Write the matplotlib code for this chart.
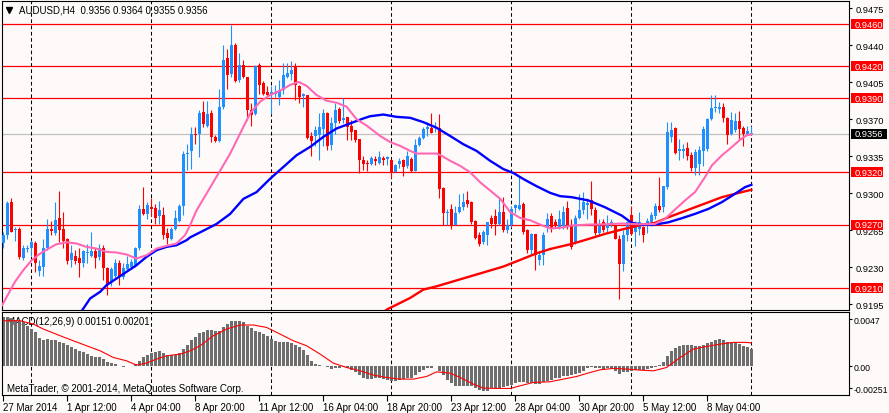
import numpy as np
import matplotlib
matplotlib.use('Agg')
import matplotlib.pyplot as plt
import matplotlib.transforms as mtransforms
from matplotlib.patches import Rectangle

plt.rcParams['font.family'] = ['Liberation Sans', 'DejaVu Sans']

# AUDUSD H4 candles, 27 Mar 2014 20:00 .. 12 May 2014 00:00
opens = [0.9253, 0.9260, 0.9292, 0.9265, 0.9266, 0.9239, 0.9247, 0.9248, 0.9253, 0.9226,
         0.9230, 0.9248, 0.9266, 0.9262, 0.9277, 0.9266, 0.9257, 0.9237, 0.9241, 0.9239,
         0.9234, 0.9243, 0.9241, 0.9245, 0.9240, 0.9248, 0.9229, 0.9216, 0.9222, 0.9234,
         0.9221, 0.9228, 0.9230, 0.9232, 0.9248, 0.9285, 0.9280, 0.9287, 0.9286, 0.9278,
         0.9279, 0.9262, 0.9257, 0.9266, 0.9274, 0.9288, 0.9337, 0.9340, 0.9356, 0.9356,
         0.9377, 0.9364, 0.9376, 0.9353, 0.9349, 0.9382, 0.9428, 0.9413, 0.9440, 0.9407,
         0.9421, 0.9410, 0.9379, 0.9375, 0.9421, 0.9404, 0.9396, 0.9393, 0.9394, 0.9391,
         0.9398, 0.9410, 0.9413, 0.9420, 0.9401, 0.9392, 0.9393, 0.9354, 0.9354, 0.9355,
         0.9361, 0.9376, 0.9346, 0.9366, 0.9380, 0.9369, 0.9372, 0.9364, 0.9360, 0.9351,
         0.9331, 0.9329, 0.9328, 0.9332, 0.9329, 0.9333, 0.9332, 0.9331, 0.9320, 0.9328,
         0.9331, 0.9326, 0.9332, 0.9321, 0.9346, 0.9352, 0.9361, 0.9362, 0.9362, 0.9362,
         0.9305, 0.9281, 0.9285, 0.9270, 0.9282, 0.9287, 0.9294, 0.9292, 0.9274, 0.9260,
         0.9254, 0.9260, 0.9277, 0.9278, 0.9271, 0.9282, 0.9265, 0.9270, 0.9286, 0.9285,
         0.9290, 0.9265, 0.9246, 0.9261, 0.9237, 0.9242, 0.9267, 0.9278, 0.9273, 0.9268,
         0.9269, 0.9286, 0.9269, 0.9254, 0.9277, 0.9284, 0.9289, 0.9294, 0.9284, 0.9262,
         0.9273, 0.9267, 0.9271, 0.9269, 0.9257, 0.9233, 0.9260, 0.9279, 0.9263, 0.9266,
         0.9268, 0.9269, 0.9273, 0.9278, 0.9288, 0.9287, 0.9306, 0.9353, 0.9362, 0.9340,
         0.9340, 0.9343, 0.9336, 0.9324, 0.9328, 0.9340, 0.9342, 0.9370, 0.9381, 0.9380,
         0.9382, 0.9371, 0.9356, 0.9360, 0.9368, 0.9362, 0.9356, 0.9356]
highs = [0.9263, 0.9293, 0.9295, 0.9268, 0.9268, 0.9251, 0.9251, 0.9256, 0.9255, 0.9237,
         0.9257, 0.9276, 0.9274, 0.9292, 0.9302, 0.9282, 0.9258, 0.9251, 0.9246, 0.9248,
         0.9246, 0.9252, 0.9263, 0.9248, 0.9252, 0.9251, 0.9230, 0.9230, 0.9238, 0.9237,
         0.9234, 0.9241, 0.9238, 0.9249, 0.9289, 0.9306, 0.9292, 0.9295, 0.9290, 0.9293,
         0.9287, 0.9267, 0.9268, 0.9284, 0.9290, 0.9340, 0.9347, 0.9363, 0.9363, 0.9379,
         0.9387, 0.9387, 0.9379, 0.9355, 0.9399, 0.9440, 0.9436, 0.9459, 0.9442, 0.9433,
         0.9426, 0.9410, 0.9385, 0.9421, 0.9423, 0.9406, 0.9401, 0.9401, 0.9402, 0.9407,
         0.9423, 0.9423, 0.9425, 0.9423, 0.9402, 0.9395, 0.9393, 0.9358, 0.9364, 0.9376,
         0.9380, 0.9377, 0.9372, 0.9385, 0.9382, 0.9390, 0.9372, 0.9369, 0.9360, 0.9351,
         0.9335, 0.9331, 0.9335, 0.9335, 0.9340, 0.9335, 0.9335, 0.9332, 0.9328, 0.9333,
         0.9332, 0.9340, 0.9334, 0.9351, 0.9354, 0.9363, 0.9367, 0.9376, 0.9367, 0.9375,
         0.9306, 0.9285, 0.9290, 0.9288, 0.9299, 0.9300, 0.9302, 0.9293, 0.9275, 0.9263,
         0.9265, 0.9273, 0.9279, 0.9285, 0.9295, 0.9296, 0.9276, 0.9288, 0.9290, 0.9316,
         0.9292, 0.9266, 0.9262, 0.9261, 0.9245, 0.9263, 0.9281, 0.9281, 0.9276, 0.9284,
         0.9288, 0.9293, 0.9276, 0.9279, 0.9299, 0.9301, 0.9295, 0.9312, 0.9287, 0.9276,
         0.9276, 0.9279, 0.9276, 0.9271, 0.9260, 0.9265, 0.9274, 0.9288, 0.9274, 0.9282,
         0.9269, 0.9277, 0.9282, 0.9291, 0.9315, 0.9307, 0.9367, 0.9367, 0.9363, 0.9351,
         0.9347, 0.9348, 0.9339, 0.9342, 0.9345, 0.9364, 0.9371, 0.9393, 0.9393, 0.9386,
         0.9385, 0.9372, 0.9377, 0.9376, 0.9378, 0.9364, 0.9364, 0.9364]
lows = [0.9248, 0.9257, 0.9263, 0.9255, 0.9238, 0.9237, 0.9244, 0.9241, 0.9225, 0.9222,
        0.9222, 0.9246, 0.9260, 0.9260, 0.9254, 0.9248, 0.9233, 0.9230, 0.9233, 0.9221,
        0.9230, 0.9234, 0.9240, 0.9229, 0.9237, 0.9218, 0.9204, 0.9212, 0.9220, 0.9213,
        0.9219, 0.9226, 0.9229, 0.9230, 0.9246, 0.9279, 0.9276, 0.9278, 0.9271, 0.9271,
        0.9257, 0.9252, 0.9256, 0.9265, 0.9273, 0.9279, 0.9322, 0.9323, 0.9347, 0.9334,
        0.9363, 0.9363, 0.9348, 0.9348, 0.9348, 0.9380, 0.9399, 0.9410, 0.9405, 0.9405,
        0.9409, 0.9369, 0.9364, 0.9374, 0.9394, 0.9393, 0.9392, 0.9375, 0.9391, 0.9383,
        0.9394, 0.9409, 0.9407, 0.9388, 0.9385, 0.9382, 0.9351, 0.9335, 0.9345, 0.9331,
        0.9345, 0.9341, 0.9341, 0.9356, 0.9366, 0.9366, 0.9350, 0.9350, 0.9348, 0.9319,
        0.9322, 0.9321, 0.9327, 0.9327, 0.9328, 0.9327, 0.9327, 0.9314, 0.9320, 0.9324,
        0.9316, 0.9324, 0.9320, 0.9321, 0.9345, 0.9351, 0.9354, 0.9357, 0.9358, 0.9295,
        0.9270, 0.9270, 0.9266, 0.9270, 0.9281, 0.9284, 0.9287, 0.9271, 0.9257, 0.9250,
        0.9252, 0.9251, 0.9267, 0.9260, 0.9270, 0.9263, 0.9262, 0.9268, 0.9281, 0.9284,
        0.9261, 0.9243, 0.9242, 0.9227, 0.9232, 0.9232, 0.9263, 0.9263, 0.9267, 0.9266,
        0.9266, 0.9266, 0.9247, 0.9252, 0.9276, 0.9280, 0.9276, 0.9279, 0.9260, 0.9260,
        0.9263, 0.9262, 0.9268, 0.9257, 0.9200, 0.9226, 0.9255, 0.9260, 0.9250, 0.9260,
        0.9254, 0.9262, 0.9269, 0.9276, 0.9282, 0.9282, 0.9304, 0.9348, 0.9337, 0.9331,
        0.9333, 0.9331, 0.9321, 0.9317, 0.9317, 0.9326, 0.9340, 0.9369, 0.9377, 0.9376,
        0.9367, 0.9347, 0.9355, 0.9358, 0.9350, 0.9345, 0.9355, 0.9355]
closes = [0.9260, 0.9291, 0.9263, 0.9266, 0.9240, 0.9248, 0.9248, 0.9254, 0.9234, 0.9231,
          0.9248, 0.9266, 0.9264, 0.9275, 0.9265, 0.9255, 0.9236, 0.9243, 0.9236, 0.9234,
          0.9245, 0.9244, 0.9245, 0.9239, 0.9248, 0.9229, 0.9214, 0.9228, 0.9234, 0.9222,
          0.9229, 0.9233, 0.9235, 0.9248, 0.9285, 0.9280, 0.9289, 0.9285, 0.9277, 0.9284,
          0.9260, 0.9258, 0.9266, 0.9277, 0.9288, 0.9337, 0.9338, 0.9356, 0.9355, 0.9376,
          0.9365, 0.9375, 0.9353, 0.9349, 0.9382, 0.9426, 0.9412, 0.9440, 0.9406, 0.9421,
          0.9410, 0.9379, 0.9374, 0.9420, 0.9402, 0.9394, 0.9393, 0.9396, 0.9396, 0.9398,
          0.9412, 0.9414, 0.9417, 0.9402, 0.9391, 0.9394, 0.9352, 0.9349, 0.9360, 0.9363,
          0.9376, 0.9345, 0.9366, 0.9379, 0.9368, 0.9371, 0.9363, 0.9358, 0.9350, 0.9331,
          0.9328, 0.9328, 0.9333, 0.9330, 0.9334, 0.9331, 0.9334, 0.9319, 0.9327, 0.9330,
          0.9325, 0.9335, 0.9321, 0.9346, 0.9352, 0.9361, 0.9363, 0.9357, 0.9363, 0.9304,
          0.9281, 0.9282, 0.9269, 0.9281, 0.9287, 0.9292, 0.9290, 0.9273, 0.9258, 0.9252,
          0.9263, 0.9273, 0.9271, 0.9271, 0.9282, 0.9265, 0.9270, 0.9285, 0.9289, 0.9289,
          0.9263, 0.9246, 0.9261, 0.9242, 0.9242, 0.9260, 0.9276, 0.9267, 0.9270, 0.9276,
          0.9282, 0.9268, 0.9249, 0.9277, 0.9284, 0.9292, 0.9291, 0.9285, 0.9262, 0.9269,
          0.9265, 0.9271, 0.9273, 0.9257, 0.9233, 0.9260, 0.9273, 0.9261, 0.9268, 0.9273,
          0.9260, 0.9274, 0.9279, 0.9288, 0.9284, 0.9307, 0.9358, 0.9360, 0.9338, 0.9342,
          0.9342, 0.9335, 0.9324, 0.9339, 0.9341, 0.9361, 0.9370, 0.9381, 0.9382, 0.9382,
          0.9371, 0.9355, 0.9369, 0.9368, 0.9361, 0.9356, 0.9359, 0.9356]

# moving averages (bar index, price)
pink_x = [-0.3, 2.9, 5.0, 7.1, 9.2, 11.3, 13.3, 15.8, 18.3, 20.8, 23.3, 25.8, 28.3, 30.8,
          33.3, 35.8, 38.3, 40.8, 43.3, 45.4, 46.7, 48.2, 52.5, 56.7, 59.2, 61.7, 64.2,
          66.7, 69.2, 71.7, 73.8, 75.8, 78.3, 80.8, 83.3, 85.8, 88.3, 90.8, 94.2, 96.7,
          99.2, 101.7, 103.3, 108.3, 109.6, 111.7, 114.2, 116.7, 119.2, 121.7, 124.2,
          126.7, 129.2, 131.7, 134.2, 136.7, 139.2, 142.1, 146.3, 150.4, 154.6, 158.8,
          162.9, 165.4, 167.9, 170.4, 172.9, 175.4, 177.1, 179.6, 182.1, 184.2, 185.8, 187.0]
pink_y = [0.9194, 0.92161, 0.92272, 0.92366, 0.92429, 0.92476, 0.92517, 0.92536, 0.92524,
          0.92492, 0.92476, 0.92445, 0.92439, 0.92420, 0.92382, 0.92413, 0.92476, 0.92502,
          0.92524, 0.92602, 0.92697, 0.92830, 0.93105, 0.93374, 0.93565, 0.93755, 0.93866,
          0.93929, 0.93970, 0.94024, 0.94053, 0.94015, 0.93929, 0.93875, 0.93856, 0.93818,
          0.93700, 0.93640, 0.93541, 0.93484, 0.93447, 0.93400, 0.93375, 0.93375, 0.93353,
          0.93306, 0.93259, 0.93197, 0.93103, 0.93025, 0.92947, 0.92822, 0.92766, 0.92744,
          0.92703, 0.92666, 0.92672, 0.92694, 0.92703, 0.92706, 0.92713, 0.92706, 0.92709,
          0.92757, 0.92845, 0.92931, 0.93010, 0.93152, 0.93262, 0.93357, 0.93436, 0.93506,
          0.93547, 0.93556]
blue_x = [19.5, 21.7, 24.2, 25.8, 28.3, 30.8, 33.3, 35.8, 38.3, 40.8, 43.3, 45.8, 46.7,
          50.0, 53.3, 56.7, 60.0, 63.3, 66.7, 70.0, 73.3, 76.7, 80.0, 83.3, 86.7, 90.0,
          91.7, 95.0, 98.3, 101.7, 105.0, 108.3, 111.7, 115.0, 118.3, 121.7, 125.0, 127.5,
          130.0, 133.3, 136.7, 139.2, 142.1, 146.3, 150.4, 154.6, 157.1, 159.6, 162.9,
          166.3, 169.6, 172.9, 176.3, 179.6, 182.9, 185.4, 187.0]
blue_y = [0.9188, 0.92004, 0.92067, 0.92130, 0.92193, 0.92256, 0.92319, 0.92398, 0.92461,
          0.92492, 0.92508, 0.92555, 0.92582, 0.92645, 0.92709, 0.92804, 0.92946, 0.93010,
          0.93137, 0.93248, 0.93359, 0.93438, 0.93533, 0.93612, 0.93660, 0.93707, 0.93728,
          0.93744, 0.93722, 0.93713, 0.93672, 0.93619, 0.93541, 0.93463, 0.93400, 0.93306,
          0.93228, 0.93191, 0.93134, 0.93066, 0.93003, 0.92972, 0.92962, 0.92931, 0.92867,
          0.92788, 0.92719, 0.92703, 0.92703, 0.92725, 0.92763, 0.92804, 0.92852, 0.92915,
          0.92994, 0.93057, 0.93079]
red_x = [94.5, 95.9, 101.7, 105.0, 108.3, 112.5, 116.7, 120.8, 125.0, 129.2, 133.3, 136.7,
         142.1, 146.3, 150.4, 154.6, 158.8, 162.9, 166.3, 169.6, 172.9, 176.3, 179.6,
         182.9, 187.0]
red_y = [0.9186, 0.9190, 0.92009, 0.92088, 0.92119, 0.92166, 0.92213, 0.92259, 0.92306,
         0.92369, 0.92431, 0.92472, 0.92520, 0.92567, 0.92615, 0.92656, 0.92694, 0.92719,
         0.92773, 0.92820, 0.92867, 0.92915, 0.92962, 0.92994, 0.93032]

# MACD(12,26,9) histogram, one value per bar
macd = [0.00423, 0.00423, 0.00415, 0.00403, 0.00394, 0.00380, 0.00351, 0.00322, 0.00293, 0.00244,
        0.00229, 0.00235, 0.00229, 0.00226, 0.00212, 0.00200, 0.00183, 0.00162, 0.00148, 0.00133,
        0.00119, 0.00104, 0.00090, 0.00081, 0.00075, 0.00061, 0.00032, 0.00026, 0.00017, -0.00003,
        -0.00006, -0.00003, 0.00003, 0.00017, 0.00046, 0.00075, 0.00099, 0.00113, 0.00125, 0.00131,
        0.00113, 0.00096, 0.00096, 0.00099, 0.00113, 0.00148, 0.00183, 0.00226, 0.00255, 0.00284,
        0.00299, 0.00313, 0.00313, 0.00307, 0.00307, 0.00336, 0.00365, 0.00389, 0.00394, 0.00392,
        0.00380, 0.00351, 0.00331, 0.00307, 0.00299, 0.00278, 0.00264, 0.00235, 0.00220, 0.00206,
        0.00206, 0.00206, 0.00200, 0.00183, 0.00162, 0.00142, 0.00096, 0.00046, 0.00017, 0.00009,
        0.00003, -0.00012, -0.00026, -0.00020, -0.00020, -0.00012, -0.00020, -0.00035, -0.00055, -0.00078,
        -0.00099, -0.00113, -0.00113, -0.00107, -0.00107, -0.00113, -0.00119, -0.00128, -0.00128, -0.00119,
        -0.00113, -0.00107, -0.00099, -0.00078, -0.00055, -0.00035, -0.00020, -0.00015, -0.00003, -0.00041,
        -0.00078, -0.00119, -0.00151, -0.00171, -0.00171, -0.00171, -0.00171, -0.00177, -0.00194, -0.00209,
        -0.00220, -0.00215, -0.00194, -0.00191, -0.00186, -0.00180, -0.00177, -0.00165, -0.00148, -0.00136,
        -0.00142, -0.00148, -0.00151, -0.00157, -0.00157, -0.00142, -0.00128, -0.00119, -0.00107, -0.00099,
        -0.00090, -0.00084, -0.00075, -0.00070, -0.00061, -0.00041, -0.00017, -0.00012, -0.00017, -0.00020,
        -0.00026, -0.00020, -0.00020, -0.00041, -0.00070, -0.00055, -0.00049, -0.00041, -0.00035, -0.00038,
        -0.00035, -0.00029, -0.00020, -0.00006, 0.00009, 0.00038, 0.00090, 0.00133, 0.00154, 0.00171,
        0.00183, 0.00183, 0.00183, 0.00177, 0.00171, 0.00183, 0.00197, 0.00212, 0.00226, 0.00235,
        0.00229, 0.00212, 0.00212, 0.00206, 0.00191, 0.00177, 0.00162, 0.00151]
sig_x = [0.0, 4.2, 7.5, 10.0, 14.2, 17.5, 20.8, 24.2, 27.5, 30.8, 33.3, 35.8, 38.3, 40.8,
         44.2, 46.7, 49.2, 52.5, 55.8, 59.2, 62.5, 65.8, 69.2, 72.5, 75.8, 79.2, 82.5, 85.8,
         89.2, 92.5, 95.8, 99.2, 102.5, 105.8, 108.3, 111.7, 114.2, 117.5, 120.0, 123.3,
         126.7, 129.2, 132.5, 136.7, 140.0, 143.3, 145.8, 149.2, 152.5, 155.8, 159.2, 162.5,
         165.8, 169.2, 172.5, 175.8, 179.2, 182.5, 185.8, 187.0]
sig_y = [0.00394, 0.00394, 0.00365, 0.00322, 0.00264, 0.00220, 0.00177, 0.00133, 0.00075,
         0.00046, 0.00009, 0.00026, 0.00061, 0.00090, 0.00104, 0.00133, 0.00177, 0.00264,
         0.00322, 0.00357, 0.00357, 0.00336, 0.00278, 0.00220, 0.00177, 0.00104, 0.00026,
         -0.00012, -0.00041, -0.00078, -0.00099, -0.00113, -0.00113, -0.00090, -0.00050,
         -0.00061, -0.00099, -0.00157, -0.00191, -0.00194, -0.00194, -0.00171, -0.00142,
         -0.00136, -0.00113, -0.00090, -0.00064, -0.00032, -0.00020, -0.00026, -0.00035,
         -0.00041, -0.00012, 0.00075, 0.00148, 0.00171, 0.00191, 0.00206, 0.00206, 0.00201]

levels = [0.9460, 0.9420, 0.9390, 0.9320, 0.9270, 0.9210]
price_ticks = [0.9475, 0.9440, 0.9405, 0.9370, 0.9335, 0.9300, 0.9265, 0.9230, 0.9195]
last_price = 0.9356
time_pos = [0, 16, 32, 48, 64, 80, 96, 112, 128, 144, 160, 176]
time_labels = ['27 Mar 2014', '1 Apr 12:00', '4 Apr 04:00', '8 Apr 20:00', '11 Apr 12:00',
               '16 Apr 04:00', '18 Apr 20:00', '23 Apr 12:00', '28 Apr 04:00',
               '30 Apr 20:00', '5 May 12:00', '8 May 04:00']
week_sep = [7, 37, 67, 97, 127, 157, 187]

BG = '#FFFAFA'
BULL = '#1E90FF'
BEAR = '#FF0000'
FS = 7.0
FS_SCALE = 6.7

W, H = 889, 414
fig = plt.figure(figsize=(W / 100, H / 100), dpi=100, facecolor=BG)

def px_rect(x0, y0, x1, y1):
    return [x0 / W, 1 - y1 / H, (x1 - x0) / W, (y1 - y0) / H]

ax = fig.add_axes(px_rect(2, 2, 849, 311), facecolor=BG)
ax2 = fig.add_axes(px_rect(2, 313, 849, 396), facecolor=BG, sharex=ax)

idx = np.arange(len(opens))
o = np.array(opens); h = np.array(highs); l = np.array(lows); c = np.array(closes)
cols = np.where(c >= o, BULL, BEAR)

for lv in levels:
    ax.axhline(lv, color='#FF0000', lw=0.9, zorder=1)
ax.axhline(last_price, color='#C0C0C0', lw=0.9, zorder=1)

ax.vlines(idx, l, h, colors=cols, lw=0.8, zorder=3)
ax.bar(idx, np.maximum(np.abs(c - o), 0.00008), bottom=np.minimum(o, c),
       width=0.75, color=cols, lw=0, zorder=3)

ax.plot(red_x, red_y, color='#FF0000', lw=1.7, zorder=4)
ax.plot(blue_x, blue_y, color='#0000FF', lw=1.7, zorder=4)
ax.plot(pink_x, pink_y, color='#FF69B4', lw=1.5, zorder=4)

ax2.bar(idx, macd, width=0.75, color='#6E6E6E', lw=0, zorder=2)
ax2.plot(sig_x, sig_y, color='#FF0000', lw=0.8, zorder=3)

for a in (ax, ax2):
    for k in week_sep:
        a.axvline(k, color='black', lw=0.75, ls=(0, (3.5, 2.5)), zorder=1.5)
    for s in a.spines.values():
        s.set_linewidth(0.8)
        s.set_color('black')

ax.set_xlim(-0.33, 211.4)
ax.set_ylim(0.91895, 0.94818)
ax2.set_ylim(-0.00251, 0.0047)

ax.yaxis.tick_right()
ax.set_yticks(price_ticks, [f'{v:.4f}' for v in price_ticks])
ax.tick_params(axis='y', length=2, width=0.8, pad=2.5, labelsize=FS_SCALE)
ax.tick_params(axis='x', bottom=False, labelbottom=False)

ax2.yaxis.tick_right()
ax2.set_yticks([0.00409, 0.0, -0.00193], ['0.0047', '0.00', '-0.00251'])
ax2.tick_params(axis='y', length=2, width=0.8, pad=1, labelsize=6.3)
ax2.set_xticks(time_pos, time_labels, ha='left')
ax2.tick_params(axis='x', length=4, width=0.8, pad=1, labelsize=FS)

# boxed price labels on the scale
trans = mtransforms.blended_transform_factory(ax.transAxes, ax.transData)
box_h = 10 / 10572
for lv in levels:
    ax.add_patch(Rectangle((1.002, lv - box_h / 2), 0.0385, box_h, transform=trans,
                           facecolor='#FF0000', edgecolor='none', clip_on=False, zorder=5))
    ax.text(1.0064, lv, f'{lv:.4f}', transform=trans, color='white', fontsize=FS_SCALE,
            va='center', ha='left', clip_on=False, zorder=6)
ax.add_patch(Rectangle((1.002, last_price - box_h / 2), 0.0425, box_h, transform=trans,
                       facecolor='black', edgecolor='none', clip_on=False, zorder=5))
ax.text(1.0064, last_price, f'{last_price:.4f}', transform=trans, color='white',
        fontsize=FS_SCALE, va='center', ha='left', clip_on=False, zorder=6)

ax.plot([0.0086], [0.971], marker='v', color='black', ms=4.5, transform=ax.transAxes,
        clip_on=False, zorder=6)
ax.text(0.0201, 0.9725, 'AUDUSD,H4  0.9356 0.9364 0.9355 0.9356', transform=ax.transAxes,
        fontsize=FS, va='center', ha='left', zorder=6)
ax2.text(0.0055, 0.886, 'MACD(12,26,9) 0.00151 0.00201', transform=ax2.transAxes,
         fontsize=FS, va='center', ha='left', zorder=1)
ax2.text(0.0055, 0.085, 'MetaTrader, © 2001-2014, MetaQuotes Software Corp.',
         transform=ax2.transAxes, fontsize=FS, va='center', ha='left', zorder=6)

fig.savefig('out.png', dpi=100, facecolor=BG)
